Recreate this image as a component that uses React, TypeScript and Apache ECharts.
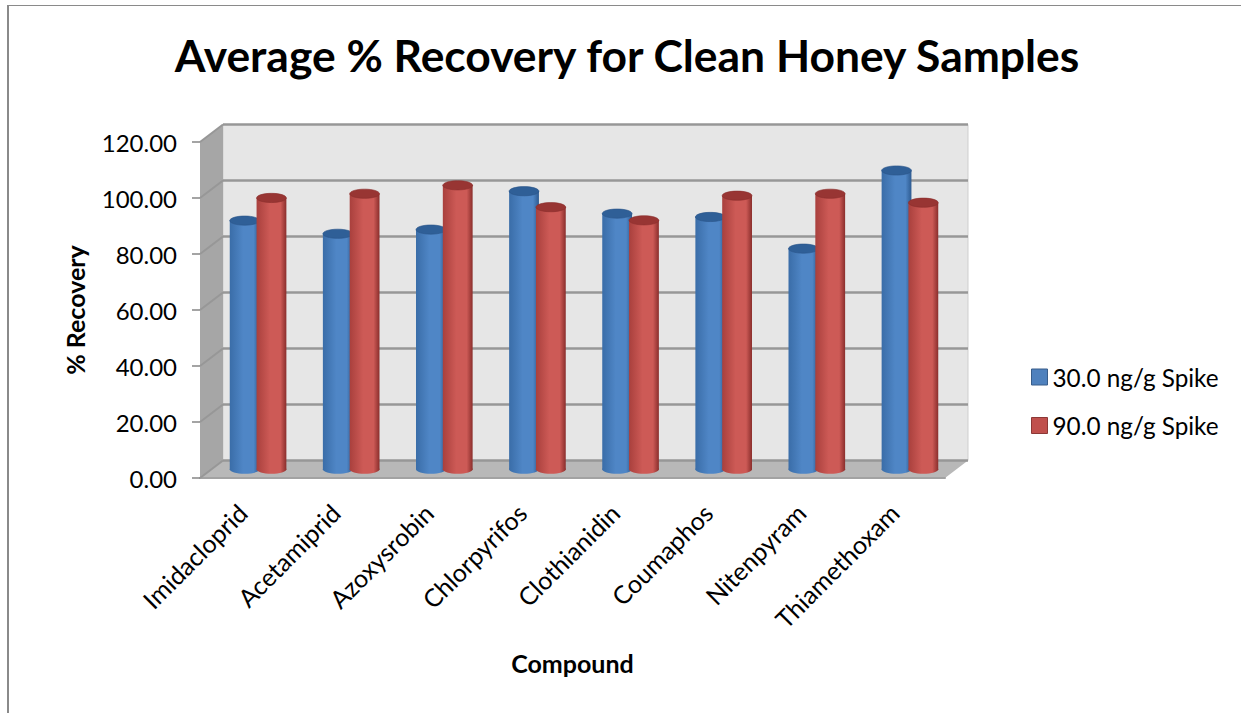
import React, { useEffect, useRef } from "react";
import * as echarts from "echarts";

const compounds = ["Imidacloprid", "Acetamiprid", "Azoxysrobin", "Chlorpyrifos", "Clothianidin", "Coumaphos", "Nitenpyram", "Thiamethoxam"];
const spike30 = [88.8, 84.1, 85.6, 99.3, 91.3, 90.1, 78.8, 106.7];
const spike90 = [96.9, 98.4, 101.4, 93.6, 88.9, 97.7, 98.4, 95.2];
const valueMax = 120;
const valueStep = 20;

const FONT = "Lato, 'Open Sans', sans-serif";
// Front plane of the 3D box, and how far the back wall sits behind it.
const FRONT = { left: 200, right: 945, top: 142, bottom: 478 };
const DEPTH = { x: 23, y: -17.5 };
const BACK = {
  left: FRONT.left + DEPTH.x,
  right: FRONT.right + DEPTH.x,
  top: FRONT.top + DEPTH.y,
  bottom: FRONT.bottom + DEPTH.y,
};

const fade = (left: string, mid: string, right: string) => ({
  type: "linear", x: 0, y: 0, x2: 1, y2: 0,
  colorStops: [
    { offset: 0, color: left },
    { offset: 0.45, color: mid },
    { offset: 0.8, color: mid },
    { offset: 1, color: right },
  ],
});

// Cylinders stand half way between the front plane and the back wall.
const cylinder = (side: number, body: any, cap: string, edge: string) => (_p: any, api: any) => {
  const i = api.value(0);
  const [x, top] = api.coord([i, api.value(1)]);
  const [, base] = api.coord([i, 0]);
  const band = api.size([1, 0])[0];
  const w = band * 0.32;
  const cx = x + DEPTH.x / 2 + (side * w * 0.9) / 2;
  const y0 = base + DEPTH.y / 2;
  const y1 = top + DEPTH.y / 2;
  const ry = 4.6;
  return {
    type: "group",
    children: [
      { type: "ellipse", shape: { cx, cy: y0, rx: w / 2, ry }, style: { fill: body } },
      { type: "rect", shape: { x: cx - w / 2, y: y1, width: w, height: y0 - y1 }, style: { fill: body } },
      { type: "ellipse", shape: { cx, cy: y1, rx: w / 2, ry }, style: { fill: cap, stroke: edge, lineWidth: 0.6 } },
    ],
  };
};

// Diagonals that carry each value line across the side wall.
const sideWallLine = (_p: any, api: any) => {
  const [x, y] = api.coord([0, api.value(0)]);
  const band = api.size([1, 0])[0];
  const x0 = x - band / 2;
  return {
    type: "line",
    shape: { x1: x0, y1: y, x2: x0 + DEPTH.x, y2: y + DEPTH.y },
    style: { stroke: "#979797", lineWidth: 2 },
  };
};

const tickValues: number[] = [];
for (let v = 0; v <= valueMax; v += valueStep) tickValues.push(v);

export default function App() {
  const ref = useRef<HTMLDivElement>(null);
  useEffect(() => {
    const chart = echarts.init(ref.current!, undefined, { renderer: "svg" });
    chart.setOption({
      animation: false,
      backgroundColor: "#ffffff",
      textStyle: { fontFamily: FONT },
      title: {
        text: "Average % Recovery for Clean Honey Samples",
        left: 622,
        top: 27,
        textAlign: "center",
        textStyle: { fontFamily: FONT, fontSize: 44.4, fontWeight: "bold", color: "#000" },
      },
      legend: {
        orient: "vertical",
        left: 1026,
        top: 360,
        icon: "rect",
        itemWidth: 16,
        itemHeight: 16,
        itemGap: 24.5,
        itemStyle: { borderWidth: 1 },
        textStyle: { fontFamily: FONT, fontSize: 24.3, color: "#000" },
        data: ["30.0 ng/g Spike", "90.0 ng/g Spike"],
      },
      grid: [
        { left: FRONT.left, top: FRONT.top, width: FRONT.right - FRONT.left, height: FRONT.bottom - FRONT.top },
        { left: BACK.left, top: BACK.top, width: BACK.right - BACK.left, height: BACK.bottom - BACK.top },
      ],
      xAxis: [
        {
          type: "category",
          gridIndex: 0,
          data: compounds,
          name: "Compound",
          nameLocation: "middle",
          nameGap: 172,
          nameTextStyle: { fontFamily: FONT, fontSize: 25, fontWeight: "bold", color: "#000" },
          axisTick: { show: false },
          axisLine: { show: true, lineStyle: { color: "#a2a2a2", width: 2 } },
          axisLabel: { rotate: 45, interval: 0, margin: 26, padding: [0, 6, 0, 0], fontFamily: FONT, fontSize: 25, color: "#000" },
        },
        { type: "category", gridIndex: 1, data: compounds, show: false },
      ],
      yAxis: [
        {
          type: "value",
          gridIndex: 0,
          min: 0,
          max: valueMax,
          interval: valueStep,
          name: "% Recovery",
          nameLocation: "middle",
          nameRotate: 90,
          nameGap: 113,
          nameTextStyle: { fontFamily: FONT, fontSize: 25, fontWeight: "bold", color: "#000" },
          splitLine: { show: false },
          axisLine: { show: false },
          axisTick: { show: true, length: 8, lineStyle: { color: "#868686", width: 1.5 } },
          axisLabel: { margin: 23, fontFamily: FONT, fontSize: 24, color: "#000", formatter: (v: number) => v.toFixed(2) },
        },
        {
          type: "value",
          gridIndex: 1,
          min: 0,
          max: valueMax,
          interval: valueStep,
          axisLine: { show: false },
          axisTick: { show: false },
          axisLabel: { show: false },
          splitLine: { show: true, lineStyle: { color: "#979797", width: 2.5 } },
        },
      ],
      graphic: [
        { type: "rect", z: -5, silent: true, shape: { x: BACK.left, y: BACK.top, width: BACK.right - BACK.left, height: BACK.bottom - BACK.top }, style: { fill: "#e6e6e6", stroke: "#cfcfcf", lineWidth: 1 } },
        { type: "polygon", z: -4, silent: true, shape: { points: [[FRONT.left, FRONT.top], [BACK.left, BACK.top], [BACK.left, BACK.bottom], [FRONT.left, FRONT.bottom]] }, style: { fill: "#a6a6a6" } },
        { type: "polygon", z: -4, silent: true, shape: { points: [[FRONT.left, FRONT.bottom], [BACK.left, BACK.bottom], [BACK.right, BACK.bottom], [FRONT.right, FRONT.bottom]] }, style: { fill: "#b8b8b8" } },
        { type: "line", silent: true, shape: { x1: 8, y1: 5.5, x2: 1241, y2: 5.5 }, style: { stroke: "#8a8a8a", lineWidth: 1 } },
        { type: "line", silent: true, shape: { x1: 8, y1: 5, x2: 8, y2: 713 }, style: { stroke: "#8a8a8a", lineWidth: 2 } },
      ],
      series: [
        {
          type: "custom",
          name: "walls",
          xAxisIndex: 0,
          yAxisIndex: 0,
          silent: true,
          z: 1,
          data: tickValues.map((v) => [v]),
          encode: { y: 0 },
          renderItem: sideWallLine,
        },
        {
          type: "custom",
          name: "30.0 ng/g Spike",
          xAxisIndex: 0,
          yAxisIndex: 0,
          z: 3,
          itemStyle: { color: "#4f81bd", borderColor: "#385d8a", borderWidth: 1 },
          data: spike30.map((v, i) => [i, v]),
          encode: { x: 0, y: 1 },
          renderItem: cylinder(-1, fade("#3a6da8", "#4f86c6", "#2d5a90"), "#2f5f97", "#2a5488"),
        },
        {
          type: "custom",
          name: "90.0 ng/g Spike",
          xAxisIndex: 0,
          yAxisIndex: 0,
          z: 4,
          itemStyle: { color: "#c0504d", borderColor: "#8c3836", borderWidth: 1 },
          data: spike90.map((v, i) => [i, v]),
          encode: { x: 0, y: 1 },
          renderItem: cylinder(1, fade("#a9403d", "#cd5a56", "#8a2e2c"), "#983533", "#8a2e2c"),
        },
      ],
    });
    return () => chart.dispose();
  }, []);
  return <div ref={ref} style={{ position: "absolute", left: 0, top: 0, width: 1241, height: 713 }} />;
}
